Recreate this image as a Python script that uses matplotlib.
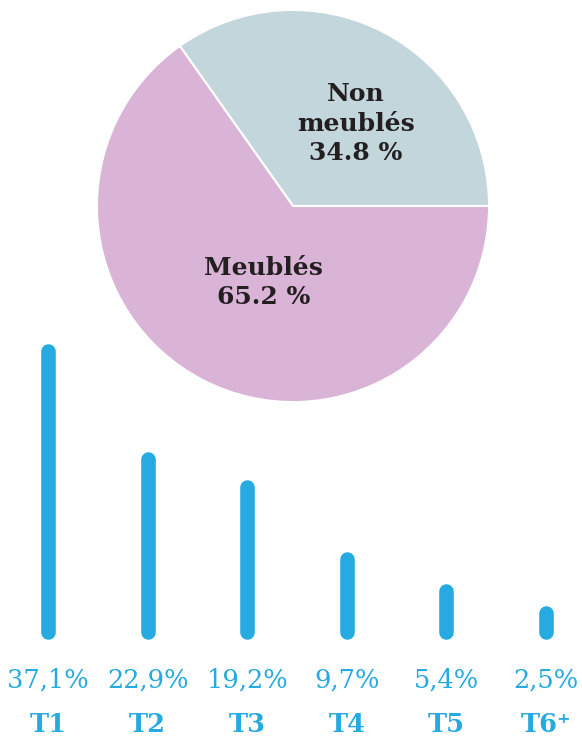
import matplotlib.pyplot as plt

# pie data
pie_labels = ['Non\nmeublés', 'Meublés']
pie_values = [34.8, 65.2]
pie_colors = ['#C2D6DC', '#DAB4D6']

# bar data
types = ['T1', 'T2', 'T3', 'T4', 'T5', 'T6⁺']
shares = [37.1, 22.9, 19.2, 9.7, 5.4, 2.5]
share_labels = ['37,1%', '22,9%', '19,2%', '9,7%', '5,4%', '2,5%']

blue = '#27AAE1'
dark = '#231F20'

fig = plt.figure(figsize=(5.82, 7.4), dpi=100)
plt.rcParams['font.family'] = ['DejaVu Serif', 'DejaVu Sans']

# pie on top
ax_pie = fig.add_axes([95 / 582, (740 - 404) / 740, 396 / 582, 396 / 740])
ax_pie.pie(pie_values, colors=pie_colors, startangle=0, counterclock=True,
           radius=1, wedgeprops=dict(edgecolor='white', linewidth=1.5))
ax_pie.set_xlim(-1.01, 1.01)
ax_pie.set_ylim(-1.01, 1.01)
ax_pie.set_aspect('equal')
ax_pie.axis('off')

label_pos = [(0.32, 0.42), (-0.15, -0.39)]
for lab, val, (x, y) in zip(pie_labels, pie_values, label_pos):
    ax_pie.text(x, y, f'{lab}\n{val} %', ha='center', va='center',
                fontsize=18, fontweight='bold', color=dark, linespacing=1.3)

# bars below
ax = fig.add_axes([0, (740 - 632) / 740, 1, 332 / 740])
ax.vlines(range(len(types)), 0, shares, color=blue, linewidth=10.5,
          capstyle='round', clip_on=False)
ax.set_xlim(-48 / 99.6, (582 - 48) / 99.6)
ax.set_ylim(0, 332 / 7.57)
ax.axis('off')

for i, (t, s) in enumerate(zip(types, share_labels)):
    ax.text(i, -6.4, s, ha='center', va='center', fontsize=18.5,
            color=blue, clip_on=False)
    ax.text(i, -12.2, t, ha='center', va='center', fontsize=18.5,
            fontweight='bold', color=blue, clip_on=False)

fig.savefig('out.png', dpi=100)
